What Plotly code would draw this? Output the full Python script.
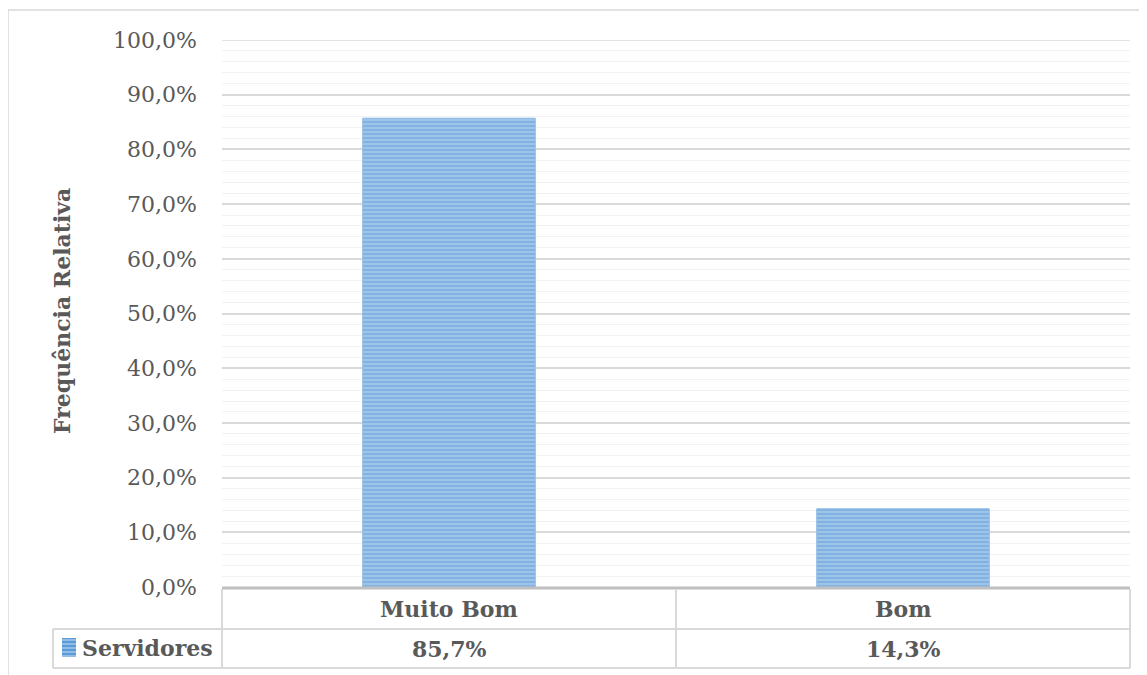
import plotly.graph_objects as go

categories = ["Muito Bom", "Bom"]
values = [0.857, 0.143]
series_name = "Servidores"
y_title = "Frequência Relativa"
y_ticks = [i / 10 for i in range(11)]

OFF = 8  # page body margin
W, H = 1147 - OFF, 675 - OFF
L, R, T, B = 222 - OFF, 1130 - OFF, 40 - OFF, 587 - OFF
PW, PH = R - L, B - T

def px_x(px):
    return (px - OFF - L) / PW

def px_y(py):
    return (B - (py - OFF)) / PH

def pct(v):
    return f"{v*100:.1f}".replace(".", ",") + "%"

GREY = "#595959"
LINE = "#d9d9d9"
FONT = "DejaVu Serif"

fig = go.Figure()
fig.add_trace(go.Bar(
    x=categories, y=values, name=series_name, width=0.38,
    marker=dict(
        color="#7fb0e0",
        line=dict(color="#8db9e4", width=1),
        pattern=dict(shape="-", fgcolor="#5B9BD5", bgcolor="#a6c8ec", size=4, solidity=0.6),
    ),
    showlegend=False,
))

shapes = []
# outer chart border
shapes.append(dict(type="rect", xref="paper", yref="paper",
                   x0=px_x(8), x1=px_x(1170), y0=px_y(700), y1=px_y(10),
                   line=dict(color=LINE, width=1.5), layer="below"))
# top gridline at 100%
shapes.append(dict(type="line", xref="paper", yref="y", x0=0, x1=1, y0=y_ticks[-1], y1=y_ticks[-1],
                   line=dict(color=LINE, width=1.5), layer="below"))
tbl = dict(color="#d9d9d9", width=2)
shapes.append(dict(type="line", xref="paper", yref="paper", x0=0, x1=1, y0=px_y(588), y1=px_y(588),
                   line=dict(color="#bfbfbf", width=3)))
shapes.append(dict(type="line", xref="paper", yref="paper", x0=px_x(53), x1=1, y0=px_y(629), y1=px_y(629), line=tbl))
shapes.append(dict(type="line", xref="paper", yref="paper", x0=px_x(53), x1=1, y0=px_y(668), y1=px_y(668), line=tbl))
for xv in [0, 0.5, 1]:
    shapes.append(dict(type="line", xref="paper", yref="paper", x0=xv, x1=xv, y0=px_y(589), y1=px_y(668), line=tbl))
shapes.append(dict(type="line", xref="paper", yref="paper", x0=px_x(53), x1=px_x(53), y0=px_y(629), y1=px_y(668), line=tbl))
# legend key with stripes
kx0, kx1, ky0, ky1 = px_x(62), px_x(76), px_y(657), px_y(638)
shapes.append(dict(type="rect", xref="paper", yref="paper", x0=kx0, x1=kx1, y0=ky0, y1=ky1,
                   fillcolor="#5B9BD5", line=dict(width=0)))
for k in range(5):
    yy = px_y(640 + k * 4)
    shapes.append(dict(type="line", xref="paper", yref="paper", x0=kx0, x1=kx1, y0=yy, y1=yy,
                       line=dict(color="#a6c8ec", width=1.5)))

annotations = []
for c, v in zip(categories, values):
    annotations.append(dict(x=c, xref="x", y=px_y(609), yref="paper", xanchor="center", yanchor="middle",
                            text=f"<b>{c}</b>", showarrow=False,
                            font=dict(family=FONT, size=22, color=GREY)))
    annotations.append(dict(x=c, xref="x", y=px_y(649), yref="paper", xanchor="center", yanchor="middle",
                            text=f"<b>{pct(v)}</b>", showarrow=False,
                            font=dict(family=FONT, size=22, color=GREY)))
annotations.append(dict(x=px_x(80), xref="paper", y=px_y(648), yref="paper", xanchor="left", yanchor="middle",
                        text=f"<b>{series_name}</b>", showarrow=False,
                        font=dict(family=FONT, size=22, color=GREY)))
annotations.append(dict(x=px_x(62), xref="paper", y=px_y(311), yref="paper", textangle=-90,
                        xanchor="center", yanchor="middle",
                        text=f"<b>{y_title}</b>", showarrow=False,
                        font=dict(family=FONT, size=22, color=GREY)))

fig.update_layout(
    width=W, height=H,
    margin=dict(l=L, r=W - R, t=T, b=H - B, pad=0),
    paper_bgcolor="white", plot_bgcolor="white",
    separators=",.",
    bargap=0.62,
    shapes=shapes, annotations=annotations,
    xaxis=dict(showticklabels=False, showgrid=False, zeroline=False, showline=False, ticks=""),
    yaxis=dict(range=[0, 1], tickvals=y_ticks, ticktext=[pct(t) for t in y_ticks],
               showgrid=True, gridcolor=LINE, gridwidth=1.5, zeroline=False, showline=False,
               ticks="", ticklabelstandoff=24,
               tickfont=dict(family=FONT, size=22, color=GREY),
               minor=dict(dtick=0.02, tick0=0, showgrid=True, gridcolor="#f2f2f2", gridwidth=1)),
)

fig.write_html("out.html")
